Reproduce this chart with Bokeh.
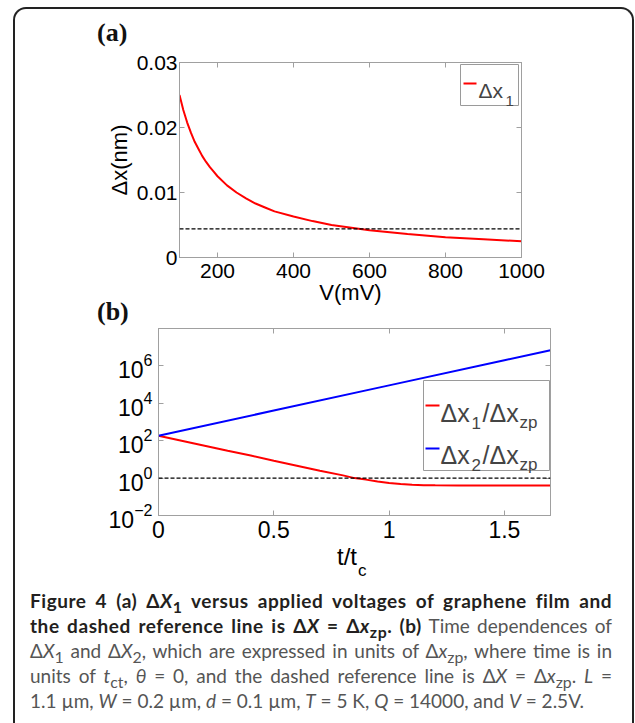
from bokeh.plotting import figure
from bokeh.layouts import column
from bokeh.models import (Span, Label, BoxAnnotation, LinearAxis, LogAxis, FixedTicker,
                          CustomJSTickFormatter, Div, Range1d)
from bokeh.embed import file_html
from bokeh.resources import INLINE

# ---------------- data: panel (a) ----------------
volt_mv = [100, 110, 120, 130, 140, 150, 160, 170, 180, 190, 200, 225, 250, 275, 300, 325,
           350, 400, 450, 500, 600, 700, 800, 900, 1000]
dx1_nm = [0.0250, 0.0227, 0.0208, 0.0192, 0.0178, 0.0167, 0.0156, 0.0147, 0.0139, 0.0132,
          0.0125, 0.0111, 0.0100, 0.0091, 0.0083, 0.0077, 0.0071, 0.0063, 0.0056, 0.0050,
          0.0042, 0.0036, 0.0031, 0.0028, 0.0025]
dx_zp_nm = 0.0044
va_ticks = [200, 400, 600, 800, 1000]
dxa_ticks = [0, 0.01, 0.02, 0.03]

# ---------------- data: panel (b) ----------------
t_red = [0, 0.1, 0.2, 0.3, 0.4, 0.5, 0.6, 0.7, 0.8, 0.85, 0.9, 0.95, 1.0, 1.05, 1.1, 1.15,
         1.2, 1.3, 1.4, 1.5, 1.6, 1.7]
dx1_ratio = [186, 100, 54, 29, 16, 8.5, 4.6, 2.5, 1.4, 1.0, 0.83, 0.66, 0.55, 0.48, 0.44, 0.42,
             0.41, 0.40, 0.40, 0.40, 0.40, 0.40]
t_blue = [0, 0.5, 1.0, 1.5, 1.7]
dx2_ratio = [186, 4.1e3, 9.1e4, 2.0e6, 6.9e6]
ratio_ref = 1.0
tb_ticks = [0, 0.5, 1, 1.5]
rb_ticks = [1e-2, 1e0, 1e2, 1e4, 1e6]

AX = "#a0a0a0"
FONT = "Liberation Sans"
SERIF = "Liberation Serif"
W = 635

blank = CustomJSTickFormatter(code="return ''")
plain = CustomJSTickFormatter(code="return tick == 0 ? '0' : tick.toString()")
twodec = CustomJSTickFormatter(code="return tick == 0 ? '0' : tick.toFixed(2)")


def style(p, tick_size):
    p.background_fill_color = "white"
    p.border_fill_color = "white"
    p.outline_line_color = AX
    p.xgrid.visible = False
    p.ygrid.visible = False
    for ax in p.axis:
        ax.axis_line_color = AX
        ax.major_tick_line_color = AX
        ax.major_tick_in = 5
        ax.major_tick_out = 0
        ax.minor_tick_line_color = None
        ax.major_label_text_font = FONT
        ax.major_label_text_font_size = tick_size
        ax.major_label_text_color = "black"
        ax.axis_label_text_font = FONT
        ax.axis_label_text_font_style = "normal"
        ax.axis_label_text_color = "black"


def mirror(p, side, ticks, log=False):
    cls = LogAxis if log else LinearAxis
    ax = cls(ticker=FixedTicker(ticks=ticks), formatter=blank,
             major_label_standoff=0, major_label_text_font_size="0px")
    p.add_layout(ax, side)


def lab(x, y, text, size):
    return Label(x=x, y=y, x_units="screen", y_units="screen", text=text,
                 text_font=FONT, text_font_size=size, text_baseline="alphabetic")


def box(left, right, bottom, top, fill, line=None):
    return BoxAnnotation(left=left, right=right, bottom=bottom, top=top,
                         left_units="screen", right_units="screen",
                         bottom_units="screen", top_units="screen",
                         fill_color=fill, fill_alpha=1,
                         line_color=line, line_alpha=1, line_width=1)


# ================= panel (a) =================
pa = figure(width=W, height=263, output_backend="svg", toolbar_location=None,
            x_range=Range1d(100, 1000), y_range=Range1d(0, 0.03), frame_align=False,
            min_border_left=179, min_border_right=114, min_border_top=16, min_border_bottom=52)
xa, ya = pa.xaxis[0], pa.yaxis[0]
pa.line(volt_mv, dx1_nm, line_color="red", line_width=2)
pa.add_layout(Span(location=dx_zp_nm, dimension="width", line_color="black",
                   line_width=1.3, line_dash="4 2"))
xa.ticker = FixedTicker(ticks=va_ticks)
ya.ticker = FixedTicker(ticks=dxa_ticks)
xa.formatter = plain
ya.formatter = twodec
xa.axis_label = "V(mV)"
ya.axis_label = "Δx(nm)"
mirror(pa, "above", va_ticks)
mirror(pa, "right", dxa_ticks)
style(pa, "21px")
xa.major_label_standoff = 6
xa.axis_label_standoff = -1
xa.axis_label_text_font_size = "22px"
ya.major_label_standoff = 2
ya.axis_label_standoff = 2
ya.axis_label_text_font_size = "22px"

pa.add_layout(box(281, 339, 152, 193, "white", "#9a9a9a"))
pa.add_layout(box(284, 297, 173, 175, "red"))
pa.add_layout(lab(299, 167, "Δx", "21px"))
pa.add_layout(lab(326, 157, "1", "15px"))

# ================= panel (b) =================
pb = figure(width=W, height=225, output_backend="svg", toolbar_location=None,
            x_range=Range1d(0, 1.7), y_range=Range1d(1e-2, 1e8), y_axis_type="log",
            frame_align=False,
            min_border_left=158, min_border_right=85, min_border_top=6, min_border_bottom=32)
xb, yb = pb.xaxis[0], pb.yaxis[0]
pb.line(t_red, dx1_ratio, line_color="red", line_width=2)
pb.line(t_blue, dx2_ratio, line_color="blue", line_width=2)
pb.add_layout(Span(location=ratio_ref, dimension="width", line_color="black",
                   line_width=1.3, line_dash="4 2"))
xb.ticker = FixedTicker(ticks=tb_ticks)
yb.ticker = FixedTicker(ticks=rb_ticks)
xb.formatter = plain
mirror(pb, "above", tb_ticks)
mirror(pb, "right", rb_ticks, log=True)
style(pb, "23px")
pb.border_fill_alpha = 0
xb.major_label_standoff = 5
yb.major_label_standoff = 6

pb.add_layout(box(265, 391, 45, 135, "white", "#9a9a9a"))
for yl, col, yt, sub in [(110, "red", 103, "1"), (67, "blue", 61, "2")]:
    pb.add_layout(box(267, 281, yl - 1, yl + 1, col))
    pb.add_layout(lab(282, yt, "Δx", "25px"))
    pb.add_layout(lab(313, yt - 10, sub, "17px"))
    pb.add_layout(lab(324, yt, "/Δx", "25px"))
    pb.add_layout(lab(361, yt - 10, "zp", "17px"))

# ================= text blocks =================
def tdiv(h, html):
    return Div(width=W, height=h, margin=0, styles={"overflow": "visible"}, text=html)

div_a = tdiv(46, f'<div style="padding:20px 0 0 97px;font-family:{SERIF};font-weight:700;'
                 f'font-size:26px;line-height:26px;color:#111;">(a)</div>')
div_b = tdiv(13, f'<div style="position:relative;top:-10px;padding:0 0 0 97px;'
                 f'font-family:{SERIF};font-weight:700;'
                 f'font-size:26px;line-height:26px;color:#111;">(b)</div>')
div_t = tdiv(38, f'<div style="position:relative;top:-2px;padding-left:337px;'
                 f'font-family:{FONT};font-size:24px;line-height:24px;color:#000;">t/t'
                 f'<span style="position:relative;top:11px;left:1px;font-size:17px;">c</span></div>')

B = "color:#231f20;font-weight:700;letter-spacing:0.55px;"
R = "color:#555555;font-weight:400;"
lines = [
    f'<span style="{B}">Figure 4 (a) Δ<i>X</i><sub>1</sub> versus applied voltages of graphene film and</span>',
    f'<span style="{B}">the dashed reference line is Δ<i>X</i> = Δ<i>x</i><sub>zp</sub>.</span> <span style="{B}">(b)</span> <span style="{R}">Time dependences of</span>',
    f'<span style="{R}">Δ<i>X</i><sub>1</sub> and Δ<i>X</i><sub>2</sub>, which are expressed in units of Δ<i>x</i><sub>zp</sub>, where time is in</span>',
    f'<span style="{R}">units of <i>t</i><sub>ct</sub>, <i>θ</i> = 0, and the dashed reference line is Δ<i>X</i> = Δ<i>x</i><sub>zp</sub>. <i>L</i> =</span>',
    f'<span style="{R}">1.1 µm, <i>W</i> = 0.2 µm, <i>d</i> = 0.1 µm, <i>T</i> = 5 K, <i>Q</i> = 14000, and <i>V</i> = 2.5V.</span>',
]
body = ""
for i, ln in enumerate(lines):
    last = "justify" if i < len(lines) - 1 else "left"
    body += (f'<div style="white-space:nowrap;text-align:justify;text-align-last:{last};'
             f'height:25px;line-height:25px;">{ln}</div>')
caption = tdiv(138, f'<div style="width:582px;margin-left:30px;padding-top:3px;'
                    f'font-family:Lato;font-size:19px;">{body}</div>')

frame_div = Div(width=621, height=716, margin=0,
                styles={"position": "absolute", "left": "13px", "top": "7px",
                        "pointer-events": "none"},
                text=('<div style="box-sizing:border-box;width:621px;height:716px;'
                      'border:2px solid #222;border-bottom:none;border-radius:13px 13px 0 0;">'
                      '</div>'))

layout = column(div_a, pa, div_b, pb, div_t, caption, frame_div)

open("out.html", "w").write(file_html(layout, INLINE))
